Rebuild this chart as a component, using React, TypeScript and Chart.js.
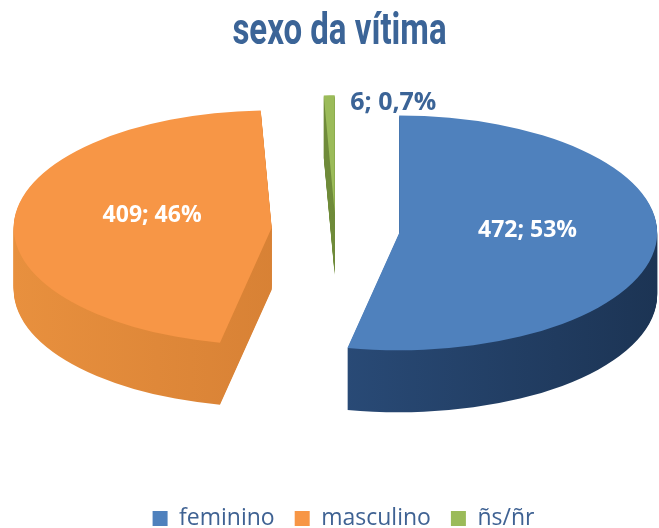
import React, { useEffect, useRef } from 'react';
import { Chart, registerables } from 'chart.js';

Chart.register(...registerables);

// ---- data ----
const categories = ['feminino', 'masculino', 'ñs/ñr'];
const values = [472, 409, 6];
const chartTitle = 'sexo da vítima';

// ---- styles ----
const topColors = ['#4F81BD', '#F79646', '#9BBB59'];
const sideLeft = ['#31588C', '#E8903E', '#7E9B44'];
const sideRight = ['#1C3454', '#C8732C', '#5F7A2E'];
const explode = [64, 64, 38]; // px each slice is pulled out from the centre
const labelColors = ['#FFFFFF', '#FFFFFF', '#3B6497'];
const labelRadius = [0.5, 0.465, 1];
const labelSizes = [23, 23, 25];
const TITLE_COLOR = '#3B6497';
const LEGEND_COLOR = '#3F6293';

const TILT = 0.455;
const DEPTH = 62;
const RADIUS = 258;
const VIEW_LIFT = 10;
const VIEW_SHIFT_X = -4;
const LABEL_LIFT = 8;
const TITLE_CONDENSE = 0.75;
const LEGEND_SHIFT_X = 4;

function fmtLabel(v: number, total: number) {
  const p = (v / total) * 100;
  const s = p < 1 ? p.toFixed(1).replace('.', ',') : Math.round(p).toString();
  return `${v}; ${s}%`;
}

function midAngle(arc: any) {
  return (arc.startAngle + arc.endAngle) / 2;
}

// condensed title + small legend nudge, by wrapping the library's own boxes
const boxTweaks = {
  id: 'boxTweaks',
  beforeDraw(chart: any) {
    const tb = chart.titleBlock;
    if (tb && !tb.__wrapped) {
      const orig = tb.draw.bind(tb);
      tb.draw = function (...args: any[]) {
        const ctx = chart.ctx;
        const cx = (tb.left + tb.right) / 2;
        ctx.save();
        ctx.translate(cx, 0);
        ctx.scale(TITLE_CONDENSE, 1);
        ctx.translate(-cx, 0);
        orig(...args);
        ctx.restore();
      };
      tb.__wrapped = true;
    }
    const lg = chart.legend;
    if (lg && !lg.__wrapped) {
      const orig = lg.draw.bind(lg);
      lg.draw = function (...args: any[]) {
        const ctx = chart.ctx;
        ctx.save();
        ctx.translate(LEGEND_SHIFT_X, 0);
        orig(...args);
        ctx.restore();
      };
      lg.__wrapped = true;
    }
  },
};

const pie3d = {
  id: 'pie3d',
  beforeDatasetsDraw(chart: any) {
    const ctx: CanvasRenderingContext2D = chart.ctx;
    const meta = chart.getDatasetMeta(0);
    const arcs = meta.data as any[];
    if (!arcs.length) return;
    const area = chart.chartArea;
    const cy = arcs[0].y;
    const cyS = (area.top + area.bottom) / 2 - DEPTH / 2 - VIEW_LIFT;

    // projection: tilt the pie plane, pull each slice out along its mid-angle
    const project = (arc: any, i: number, dropY: number) => {
      const m = midAngle(arc);
      ctx.translate(VIEW_SHIFT_X, cyS + dropY);
      ctx.scale(1, TILT);
      ctx.translate(Math.cos(m) * explode[i], -cy + Math.sin(m) * explode[i]);
    };

    // side walls: the library's arcs redrawn lower and darker
    arcs.forEach((arc: any, i: number) => {
      const saved = arc.options;
      const grad = ctx.createLinearGradient(arc.x - arc.outerRadius, 0, arc.x + arc.outerRadius, 0);
      grad.addColorStop(0, sideLeft[i]);
      grad.addColorStop(1, sideRight[i]);
      const o = Object.create(saved);
      o.backgroundColor = grad;
      o.borderWidth = 0;
      arc.options = o;
      for (let t = DEPTH; t >= 1; t -= 1) {
        ctx.save();
        project(arc, i, t);
        arc.draw(ctx);
        ctx.restore();
      }
      arc.options = saved;
    });

    // top faces
    arcs.forEach((arc: any, i: number) => {
      ctx.save();
      project(arc, i, 0);
      arc.draw(ctx);
      ctx.restore();
    });

    // data labels
    const data = chart.data.datasets[0].data as number[];
    const total = data.reduce((a, b) => a + b, 0);
    ctx.save();
    ctx.textBaseline = 'middle';
    arcs.forEach((arc: any, i: number) => {
      const m = midAngle(arc);
      const r = explode[i] + arc.outerRadius * labelRadius[i];
      const x = arc.x + Math.cos(m) * r + VIEW_SHIFT_X;
      const y = cyS + TILT * Math.sin(m) * r;
      ctx.font = `bold ${labelSizes[i]}px 'Open Sans', sans-serif`;
      ctx.fillStyle = labelColors[i];
      const text = fmtLabel(data[i], total);
      if (data[i] / total > 0.05) {
        ctx.textAlign = 'center';
        ctx.fillText(text, x, y - LABEL_LIFT);
      } else {
        ctx.textAlign = 'left';
        ctx.fillText(text, x + 21, y + 8);
      }
    });
    ctx.restore();
    return false;
  },
};

export default function App() {
  const ref = useRef<HTMLCanvasElement | null>(null);
  useEffect(() => {
    if (!ref.current) return;
    const chart = new Chart(ref.current, {
      type: 'pie',
      data: {
        labels: categories,
        datasets: [
          {
            data: values,
            backgroundColor: topColors,
            borderWidth: 0,
            offset: 0,
            clip: false as any,
          } as any,
        ],
      },
      options: {
        animation: false,
        responsive: false,
        radius: RADIUS,
        layout: { padding: { left: 20, right: 0, top: 0, bottom: 0 } },
        plugins: {
          title: {
            display: true,
            text: chartTitle,
            color: TITLE_COLOR,
            font: {
              family: "Roboto, 'Open Sans', sans-serif",
              size: 44,
              weight: 'bold',
              lineHeight: 1,
            },
            padding: { top: 11, bottom: 0 },
          },
          legend: {
            position: 'bottom',
            labels: {
              boxWidth: 15,
              boxHeight: 15,
              padding: 20,
              color: LEGEND_COLOR,
              font: { family: "'Open Sans', sans-serif", size: 23 },
            },
          },
          tooltip: { enabled: false },
        },
      } as any,
      plugins: [boxTweaks as any, pie3d as any],
    });
    return () => chart.destroy();
  }, []);
  return (
    <div style={{ position: 'fixed', left: 0, top: 0, width: 659, height: 540, background: '#fff' }}>
      <canvas ref={ref} width={659} height={540} style={{ display: 'block' }} />
    </div>
  );
}
